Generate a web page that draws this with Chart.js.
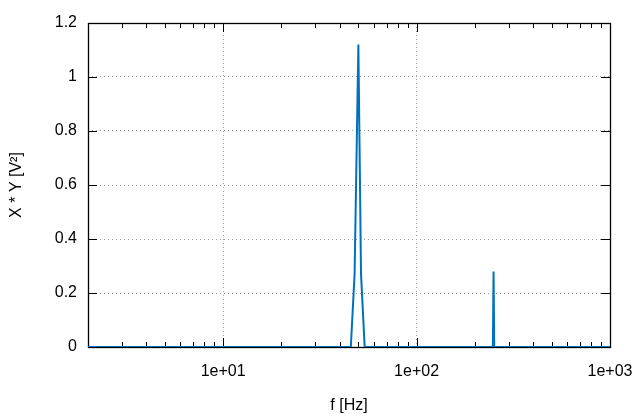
<!DOCTYPE html>
<html><head><meta charset="utf-8">
<script src="https://cdn.jsdelivr.net/npm/chart.js@4.4.1/dist/chart.umd.min.js"></script>
<style>html,body{margin:0;padding:0;background:#fff}#wrap{width:640px;height:420px}</style>
</head><body><div id="wrap"><canvas id="c" width="640" height="420"></canvas></div>
<script>
// ---- data ----
const freqHz  = [2, 45.7, 47.8, 50, 51.6, 53.9, 248, 250, 252, 1000];
const xyPower = [0, 0, 0.27, 1.12, 0.27, 0, 0, 0.28, 0, 0];
const xMajorTicks = [10, 100, 1000];
const xTickLabels = ['1e+01', '1e+02', '1e+03'];
const xMinorTicks = [2,3,4,5,6,7,8,9,20,30,40,50,60,70,80,90,200,300,400,500,600,700,800,900];
const yTicks = [0, 0.2, 0.4, 0.6, 0.8, 1, 1.2];
const yTickLabels = ['0', '0.2', '0.4', '0.6', '0.8', '1', '1.2'];
const xTitle = 'f [Hz]';
const yTitle = 'X * Y [V\u00B2]';

const FONT = {family: "'Liberation Sans', 'DejaVu Sans', sans-serif", size: 16};
const GRID = '#a0a0a0';

const framePlugin = {
  id: 'frame',
  beforeDatasetsDraw(chart) {
    const {ctx, chartArea: a, scales: {x, y}} = chart;
    ctx.save();
    ctx.strokeStyle = '#000';
    ctx.lineWidth = 1;
    ctx.beginPath();
    const all = [...xMinorTicks, ...xMajorTicks];
    all.forEach(v => {
      const px = Math.round(x.getPixelForValue(v)) + 0.5;
      const len = xMajorTicks.includes(v) ? 9 : 5;
      ctx.moveTo(px, a.bottom); ctx.lineTo(px, a.bottom - len);
      ctx.moveTo(px, a.top); ctx.lineTo(px, a.top + len);
    });
    yTicks.forEach(v => {
      const py = Math.round(y.getPixelForValue(v)) + 0.5;
      ctx.moveTo(a.left, py); ctx.lineTo(a.left + 9, py);
      ctx.moveTo(a.right, py); ctx.lineTo(a.right - 9, py);
    });
    ctx.stroke();
    ctx.lineWidth = 1.3;
    ctx.strokeRect(Math.round(a.left) + 0.5, Math.round(a.top) + 0.5,
                   Math.round(a.right - a.left), Math.round(a.bottom - a.top));
    ctx.restore();
  }
};

new Chart(document.getElementById('c'), {
  type: 'line',
  data: {
    datasets: [{
      data: freqHz.map((f, i) => ({x: f, y: xyPower[i]})),
      borderColor: '#0072BD',
      borderWidth: 2,
      pointRadius: 0,
      tension: 0,
      fill: false
    }]
  },
  options: {
    responsive: false,
    animation: false,
    devicePixelRatio: 1,
    layout: {padding: {top: 23, right: 30, left: 0, bottom: 0}},
    plugins: {legend: {display: false}, tooltip: {enabled: false}},
    scales: {
      x: {
        type: 'logarithmic', min: 2, max: 1000,
        afterBuildTicks: s => {
          s.ticks = [...xMinorTicks, ...xMajorTicks].sort((a, b) => a - b)
            .map(v => ({value: v, major: xMajorTicks.includes(v)}));
        },
        afterFit: s => { s.height = 73; s.paddingLeft = 0; s.paddingRight = 0; },
        ticks: {
          autoSkip: false, maxRotation: 0, padding: 15, color: '#000', font: FONT,
          callback: v => { const i = xMajorTicks.indexOf(v); return i >= 0 ? xTickLabels[i] : ''; }
        },
        grid: {
          drawTicks: false, lineWidth: 1,
          color: c => (c.tick && xMajorTicks.includes(c.tick.value)) ? GRID : 'rgba(0,0,0,0)'
        },
        border: {display: false, dash: [1, 3]},
        title: {display: true, text: xTitle, color: '#000', font: FONT, padding: {top: 0, bottom: 5}}
      },
      y: {
        min: 0, max: 1.2,
        afterBuildTicks: s => { s.ticks = yTicks.map(v => ({value: v})); },
        afterFit: s => { s.width = 88; s.paddingTop = 0; s.paddingBottom = 0; },
        ticks: {
          padding: 11, color: '#000', font: FONT,
          callback: v => { const i = yTicks.indexOf(v); return i >= 0 ? yTickLabels[i] : ''; }
        },
        grid: {
          drawTicks: false, lineWidth: 1,
          color: c => (c.tick && c.tick.value > 0 && c.tick.value < 1.2) ? GRID : 'rgba(0,0,0,0)'
        },
        border: {display: false, dash: [1, 3]},
        title: {display: true, text: yTitle, color: '#000', font: FONT, padding: {top: 7, bottom: 0}}
      }
    }
  },
  plugins: [framePlugin]
});
</script>
</body></html>
